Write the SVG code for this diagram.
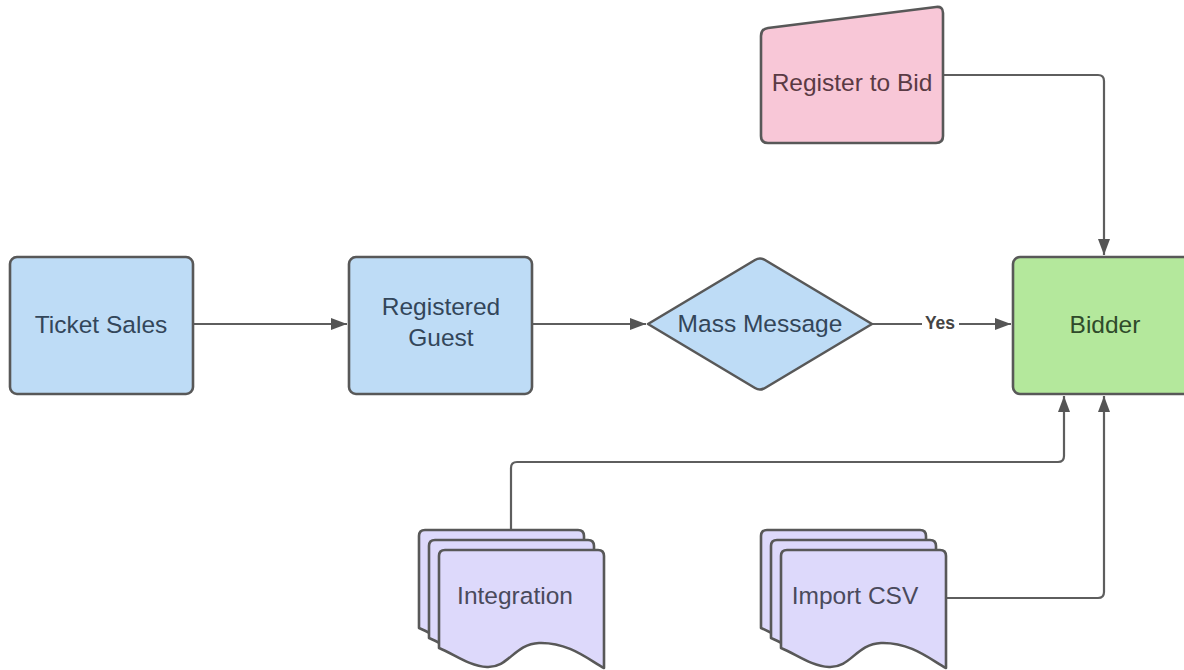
<svg xmlns="http://www.w3.org/2000/svg" width="1184" height="670" viewBox="0 0 1184 670">
  <style>
    .shape { stroke: #585858; stroke-width: 2.6; stroke-linejoin: round; }
    .blue { fill: #bedcf6; }
    .pink { fill: #f8c7d7; }
    .green { fill: #b4e89c; }
    .purple { fill: #ddd9fb; }
    .label { font-family: "Liberation Sans", Arial, sans-serif; font-size: 24.5px; text-anchor: middle; dominant-baseline: central; }
    .t-blue { fill: #33465a; }
    .t-pink { fill: #5a3a44; }
    .t-green { fill: #2f4a2a; }
    .t-purple { fill: #4a4a5c; }
    .conn { fill: none; stroke: #5e5e5e; stroke-width: 2.2; }
    .edge-label { font-family: "Liberation Sans", Arial, sans-serif; font-size: 17.5px; font-weight: bold; fill: #444; text-anchor: middle; dominant-baseline: central; }
  </style>
  <defs>
    <marker id="arrow" viewBox="0 0 16 12" refX="16" refY="6" markerWidth="16" markerHeight="12" markerUnits="userSpaceOnUse" orient="auto">
      <path d="M0,0 L16,6 L0,12 Z" fill="#555"/>
    </marker>
    <!-- single document page with a wavy bottom edge -->
    <path id="doc" d="M0,6 Q0,0 6,0 H159 Q165,0 165,6 V118 C150,110 130,92 100,93 C75,94 70,118 48,117 C30,116 15,104 0,98 Z"/>
  </defs>

  <rect width="1184" height="670" fill="#ffffff"/>

  <!-- connectors -->
  <g id="connectors">
    <line class="conn" x1="193" y1="324" x2="347" y2="324" marker-end="url(#arrow)"/>
    <line class="conn" x1="532" y1="324" x2="646" y2="324" marker-end="url(#arrow)"/>
    <line class="conn" x1="872" y1="324" x2="1011" y2="324" marker-end="url(#arrow)"/>
    <rect x="922" y="313" width="37" height="22" fill="#ffffff"/>
    <text class="edge-label" x="940" y="323">Yes</text>
    <path class="conn" d="M943,75 H1098 Q1104,75 1104,81 V255" marker-end="url(#arrow)"/>
    <path class="conn" d="M511,530 V468 Q511,462 517,462 H1058 Q1064,462 1064,456 V396" marker-end="url(#arrow)"/>
    <path class="conn" d="M945,598 H1098 Q1104,598 1104,592 V396" marker-end="url(#arrow)"/>
  </g>

  <g id="ticket-sales">
    <rect class="shape blue" x="10" y="257" width="183" height="137" rx="7"/>
    <text class="label t-blue" x="101" y="324">Ticket Sales</text>
  </g>

  <g id="registered-guest">
    <rect class="shape blue" x="349" y="257" width="183" height="137" rx="7"/>
    <text class="label t-blue" x="441" y="306">Registered</text>
    <text class="label t-blue" x="441" y="337">Guest</text>
  </g>

  <g id="mass-message">
    <path class="shape blue" d="M648,324 L755,260 Q760,257 765,260 L872,324 L765,388 Q760,391 755,388 Z"/>
    <text class="label t-blue" x="760" y="323">Mass Message</text>
  </g>

  <g id="bidder">
    <rect class="shape green" x="1013" y="257" width="200" height="137" rx="7"/>
    <text class="label t-green" x="1105" y="324">Bidder</text>
  </g>

  <g id="register-to-bid">
    <path class="shape pink" d="M761,36 Q761,29 768,28 L936,7 Q943,6 943,13 V136 Q943,143 936,143 H768 Q761,143 761,136 Z"/>
    <text class="label t-pink" x="852" y="82">Register to Bid</text>
  </g>

  <g id="integration">
    <use href="#doc" class="shape purple" x="419" y="530"/>
    <use href="#doc" class="shape purple" x="429" y="540"/>
    <use href="#doc" class="shape purple" x="439" y="550"/>
    <text class="label t-purple" x="515" y="595">Integration</text>
  </g>

  <g id="import-csv">
    <use href="#doc" class="shape purple" x="761" y="530"/>
    <use href="#doc" class="shape purple" x="771" y="540"/>
    <use href="#doc" class="shape purple" x="781" y="550"/>
    <text class="label t-purple" x="855" y="595">Import CSV</text>
  </g>
</svg>
